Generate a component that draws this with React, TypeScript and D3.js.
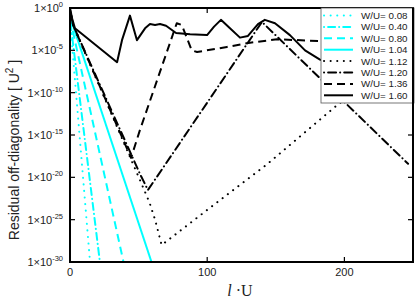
import React, { useEffect, useRef } from 'react';
import * as d3 from 'd3';

// x = l·U, y = log10(residual)
const wu008 = [[0, -1.4], [14.6, -30]];
const wu040 = [[0, -1.3], [21.8, -30]];
const wu080 = [[0, -1.2], [39, -30]];
const wu104 = [[0, -1.0], [59.4, -30]];
const wu112 = [[0, -0.2], [2.2, -2], [52, -20.7], [58, -23], [62, -25], [66.8, -28], [102, -23.6], [143.3, -18.5], [193, -11.7], [250, -4.4]];
const wu120 = [[0, -0.2], [2.2, -2], [51, -19.6], [56.8, -21.5], [139.9, -1.65], [246.4, -18.4]];
const wu136 = [[0, -0.2], [2.2, -2], [44.5, -17.7], [51, -14.4], [77.8, -1.8], [81.5, -2.0], [88.7, -5.0], [92.6, -5.2], [114.4, -4.6], [131.2, -4.1], [150.9, -3.7], [182.2, -3.9], [250, -4.0]];
const wu160 = [[0, 0], [1.5, -1.2], [3.6, -2.4], [34.3, -6.4], [37.9, -3.8], [43.7, -0.9], [48.8, -3.8], [54.7, -2.4], [58.3, -1.9], [62, -2.0], [65.6, -1.9], [70, -2.1], [77.3, -2.95], [87.5, -3.1], [99.9, -3.2], [105, -2.2], [110, -1.4], [116.6, -2.4], [123.9, -3.5], [129.7, -3.3], [137, -1.9], [142, -1.4], [149.4, -1.8], [160.3, -3.2], [171.3, -5.0], [182.2, -6.1], [196.8, -6.9], [250, -7.3]];

const seriesLabels = ['W/U= 0.08', 'W/U= 0.40', 'W/U= 0.80', 'W/U= 1.04', 'W/U= 1.12', 'W/U= 1.20', 'W/U= 1.36', 'W/U= 1.60'];
const seriesData = [wu008, wu040, wu080, wu104, wu112, wu120, wu136, wu160];
const seriesColors = ['#00ffff', '#00ffff', '#00ffff', '#00ffff', '#000', '#000', '#000', '#000'];
const seriesDash = ['0.1 6.5', '0.1 4 7 4', '8 5', null, '0.1 6.5', '0.1 4 8 4', '8 5', null];

const xTicks = [0, 100, 200];
const yTickExps = [0, -5, -10, -15, -20, -25, -30];

const App = () => {
    const svgRef = useRef(null);

    useEffect(() => {
        const svg = d3.select(svgRef.current);
        svg.selectAll('*').remove();

        const left = 70, right = 413, top = 8, bottom = 262;
        const x = d3.scaleLinear().domain([0, 250]).range([left, right]);
        const y = d3.scaleLog().domain([1e-30, 1]).range([bottom, top]);

        svg.append('defs').append('clipPath').attr('id', 'plotclip')
            .append('rect').attr('x', left).attr('y', top).attr('width', right - left).attr('height', bottom - top);

        const line = d3.line<number[]>()
            .x(d => x(d[0]))
            .y(d => y(Math.pow(10, d[1])));

        const plot = svg.append('g').attr('clip-path', 'url(#plotclip)');
        seriesData.forEach((data, i) => {
            const p = plot.append('path')
                .datum(data)
                .attr('fill', 'none')
                .attr('stroke', seriesColors[i])
                .attr('stroke-width', 2)
                .attr('stroke-linecap', seriesDash[i] && seriesDash[i].startsWith('0.1') ? 'round' : 'butt')
                .attr('stroke-linejoin', 'round')
                .attr('d', line);
            if (seriesDash[i]) p.attr('stroke-dasharray', seriesDash[i]);
        });

        // frame
        svg.append('rect')
            .attr('x', left).attr('y', top).attr('width', right - left).attr('height', bottom - top)
            .attr('fill', 'none').attr('stroke', '#000').attr('stroke-width', 2);

        // ticks inward
        const tk = svg.append('g').attr('stroke', '#000').attr('stroke-width', 1.2);
        xTicks.forEach(t => {
            tk.append('line').attr('x1', x(t)).attr('x2', x(t)).attr('y1', bottom).attr('y2', bottom - 5);
            tk.append('line').attr('x1', x(t)).attr('x2', x(t)).attr('y1', top).attr('y2', top + 5);
        });
        yTickExps.forEach(e => {
            const yy = y(Math.pow(10, e));
            tk.append('line').attr('x1', left).attr('x2', left + 5).attr('y1', yy).attr('y2', yy);
            tk.append('line').attr('x1', right).attr('x2', right - 5).attr('y1', yy).attr('y2', yy);
        });

        const font = 'Liberation Sans, Arial, sans-serif';
        xTicks.forEach(t => {
            svg.append('text').attr('x', x(t)).attr('y', bottom + 14)
                .attr('text-anchor', 'middle').attr('font-family', font).attr('font-size', 11)
                .attr('fill', '#222').text(t);
        });
        yTickExps.forEach(e => {
            const yy = y(Math.pow(10, e));
            const tx = svg.append('text').attr('x', 63).attr('y', yy + 4)
                .attr('text-anchor', 'end').attr('font-family', font).attr('font-size', 11).attr('fill', '#222');
            tx.append('tspan').text('1×10');
            tx.append('tspan').attr('dy', -5).attr('font-size', 7.5).text(`${e}`);
        });

        // axis titles
        const yl = svg.append('text')
            .attr('transform', `translate(19,${(top + bottom) / 2 + 15}) rotate(-90)`)
            .attr('text-anchor', 'middle').attr('font-family', font).attr('font-size', 14).attr('fill', '#222');
        yl.append('tspan').text('Residual off-diagonality  [ U');
        yl.append('tspan').attr('dy', -6).attr('font-size', 10).text('2');
        yl.append('tspan').attr('dy', 6).text(' ]');

        const xl = svg.append('text').attr('x', 240).attr('y', 296)
            .attr('text-anchor', 'middle').attr('font-family', 'Liberation Serif, Times New Roman, serif')
            .attr('font-size', 16).attr('fill', '#222');
        xl.append('tspan').attr('font-style', 'italic').text('l');
        xl.append('tspan').text(' ·U');

        // legend
        const lx = 321, ly = 8, lw = 93, lh = 95;
        const lg = svg.append('g');
        lg.append('rect').attr('x', lx).attr('y', ly).attr('width', lw).attr('height', lh)
            .attr('fill', '#fff').attr('stroke', '#555').attr('stroke-width', 0.8);
        seriesLabels.forEach((lab, i) => {
            const yy = 15.5 + i * 11.4;
            const s = lg.append('line').attr('x1', 324).attr('x2', 353).attr('y1', yy).attr('y2', yy)
                .attr('stroke', seriesColors[i]).attr('stroke-width', 2)
                .attr('stroke-linecap', seriesDash[i] && seriesDash[i].startsWith('0.1') ? 'round' : 'butt');
            if (seriesDash[i]) s.attr('stroke-dasharray', seriesDash[i]);
            lg.append('text').attr('x', 361).attr('y', yy + 3.5)
                .attr('font-family', font).attr('font-size', 9.8).attr('fill', '#222').text(lab);
        });
        // redraw right frame edge over legend
        svg.append('line').attr('x1', right).attr('x2', right).attr('y1', top).attr('y2', bottom)
            .attr('stroke', '#000').attr('stroke-width', 2);
    }, []);

    return <svg ref={svgRef} width={415} height={302} style={{ position: 'absolute', left: 0, top: 0 }} />;
};

export default App;
